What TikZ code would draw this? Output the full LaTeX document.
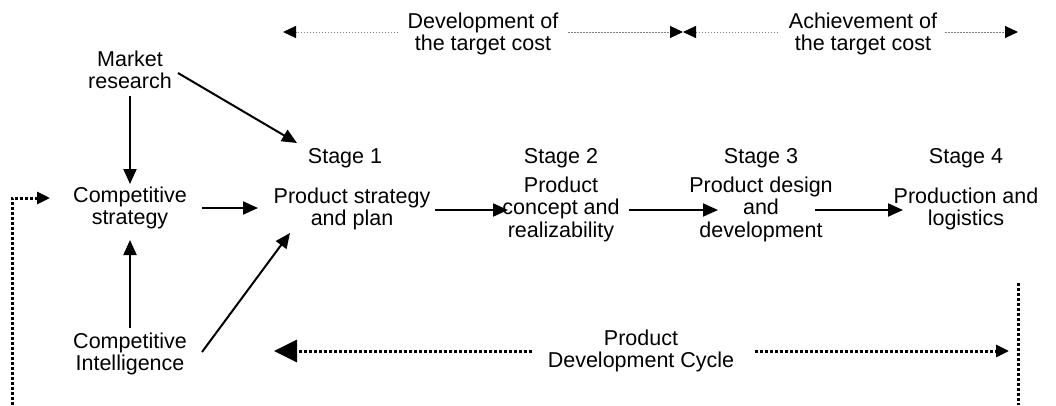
\documentclass[tikz,border=0pt]{standalone}
\usepackage{fontspec}
\setmainfont{Liberation Sans}
\usetikzlibrary{arrows.meta}
\begin{document}
\begin{tikzpicture}[x=1pt,y=-1pt,
  lbl/.style={align=center,inner sep=0pt,font=\fontsize{21.5}{22.5}\selectfont},
  arr/.style={line width=2pt,-{Triangle[length=15pt,width=13pt]}},
  topdot/.style={gray,line width=0.9pt,dash pattern=on 1.5pt off 1.5pt,-{Triangle[length=13pt,width=12pt,color=black]}},
  botdot/.style={line width=3pt,dash pattern=on 3pt off 2pt},
  bighead/.style={-{Triangle[length=23pt,width=22pt]}},
  smallhead/.style={-{Triangle[length=13pt,width=12pt]}}]
\useasboundingbox (0,0) rectangle (1056,405);
% nodes
\node[lbl] (ms) at (130,70) {Market\\research};
\node[lbl] (cs) at (130,208) {Competitive\\strategy};
\node[lbl] (ci) at (130,354) {Competitive\\Intelligence};
\node[lbl] (st1) at (345,158) {Stage 1};
\node[lbl] (s1) at (352,209) {Product strategy\\and plan};
\node[lbl] (st2) at (561,158) {Stage 2};
\node[lbl] (s2) at (561,209) {Product\\concept and\\realizability};
\node[lbl] (st3) at (761,158) {Stage 3};
\node[lbl] (s3) at (761,209) {Product design\\and\\development};
\node[lbl] (st4) at (966,158) {Stage 4};
\node[lbl] (s4) at (966,209) {Production and\\logistics};
\node[lbl] (dev) at (483,34) {Development of\\the target cost};
\node[lbl] (ach) at (863,34) {Achievement of\\the target cost};
\node[lbl] (pdc) at (641,351) {Product\\Development Cycle};
\coordinate (rtop) at (1018,283);
\coordinate (rbot) at (1018,405);
\coordinate (fbot) at (12,405);
\coordinate (fcorner) at (12,198);
% solid connectors
\draw[arr] ([shift={(0,26)}]ms.center) -- ([shift={(0,-24)}]cs.center);
\draw[arr] ([shift={(48,3)}]ms.center) -- ([shift={(-48,-15)}]st1.center);
\draw[arr] ([shift={(72,0)}]cs.center) -- ([shift={(-94,-1)}]s1.center);
\draw[arr] ([shift={(0,-26)}]ci.center) -- ([shift={(0,32)}]cs.center);
\draw[arr] ([shift={(72,-2)}]ci.center) -- ([shift={(-62,24)}]s1.center);
\draw[arr] ([shift={(83,1)}]s1.center) -- ([shift={(-53,1)}]s2.center);
\draw[arr] ([shift={(68,1)}]s2.center) -- ([shift={(-43,1)}]s3.center);
\draw[arr] ([shift={(54,1)}]s3.center) -- ([shift={(-63,1)}]s4.center);
% top dotted
\draw[topdot] ([shift={(-85,-2)}]dev.center) -- ([shift={(-200,-2)}]dev.center);
\draw[topdot] ([shift={(85,-2)}]dev.center) -- ([shift={(200,-2)}]dev.center);
\draw[topdot] ([shift={(-85,-2)}]ach.center) -- ([shift={(-180,-2)}]ach.center);
\draw[topdot] ([shift={(82,-2)}]ach.center) -- ([shift={(155,-2)}]ach.center);
% bottom dotted
\draw[botdot,bighead] ([shift={(-109,0)}]pdc.center) -- ([shift={(-367,0)}]pdc.center);
\draw[botdot,smallhead] ([shift={(114,0)}]pdc.center) -- ([shift={(368,0)}]pdc.center);
\draw[botdot] (rtop) -- (rbot);
\draw[botdot,smallhead] (fbot) -- (fcorner) -- ([shift={(-80,-10)}]cs.center);
\end{tikzpicture}
\end{document}
